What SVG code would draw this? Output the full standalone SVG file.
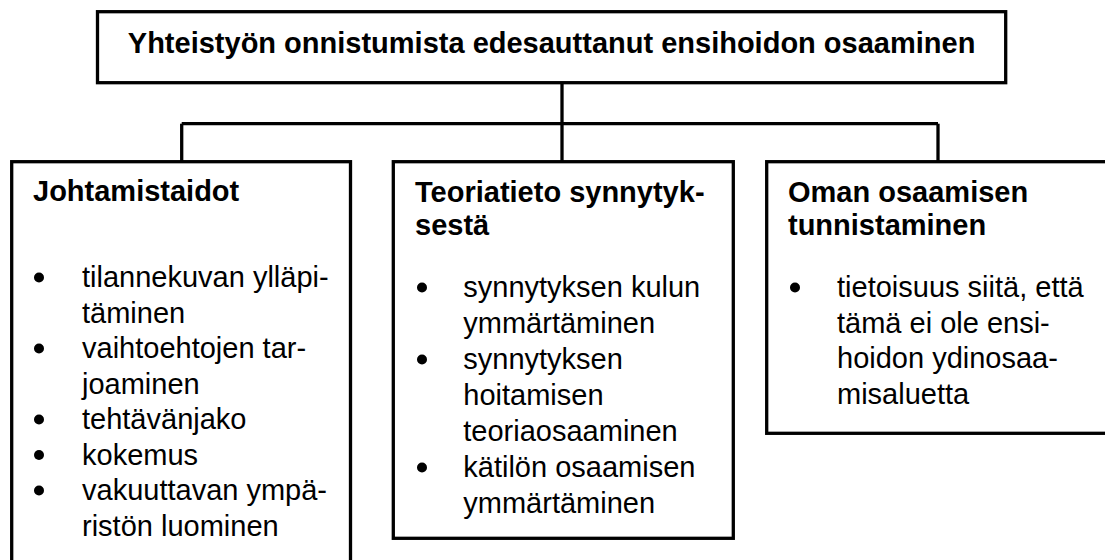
<svg xmlns="http://www.w3.org/2000/svg" width="1105" height="560" viewBox="0 0 1105 560">
  <style>
    .box { fill: #ffffff; stroke: #000000; stroke-width: 3.3; }
    .conn { fill: none; stroke: #000000; stroke-width: 3.3; }
    .title { font-family: "Liberation Sans", Arial, sans-serif; font-size: 29px; font-weight: bold; fill: #000000; }
    .body { font-family: "Liberation Sans", Arial, sans-serif; font-size: 29px; fill: #000000; }
    .dot { fill: #000000; }
  </style>
  <rect width="1105" height="560" fill="#ffffff"/>
  <g id="connectors">
    <line class="conn" x1="562" y1="83" x2="562" y2="162"/>
    <line class="conn" x1="181.7" y1="123.7" x2="938" y2="123.7"/>
    <line class="conn" x1="181.7" y1="123.7" x2="181.7" y2="162"/>
    <line class="conn" x1="938" y1="123.7" x2="938" y2="162"/>
  </g>
  <g id="root">
    <rect class="box" x="97.5" y="11.7" width="908.2" height="71"/>
    <text class="title" x="551.6" y="52.5" text-anchor="middle">Yhteistyön onnistumista edesauttanut ensihoidon osaaminen</text>
  </g>
  <g id="johtamistaidot">
    <rect class="box" x="11.7" y="161.7" width="338.8" height="420"/>
    <text class="title" x="33" y="201">Johtamistaidot</text>
    <circle class="dot" cx="39" cy="277.5" r="5"/>
    <circle class="dot" cx="39" cy="348.5" r="5"/>
    <circle class="dot" cx="39" cy="419.5" r="5"/>
    <circle class="dot" cx="39" cy="455" r="5"/>
    <circle class="dot" cx="39" cy="490.5" r="5"/>
    <text class="body" x="82" y="287">tilannekuvan ylläpi-</text>
    <text class="body" x="82" y="322.5">täminen</text>
    <text class="body" x="82" y="358">vaihtoehtojen tar-</text>
    <text class="body" x="82" y="393.5">joaminen</text>
    <text class="body" x="82" y="429">tehtävänjako</text>
    <text class="body" x="82" y="464.5">kokemus</text>
    <text class="body" x="82" y="500">vakuuttavan ympä-</text>
    <text class="body" x="82" y="535.5">ristön luominen</text>
  </g>
  <g id="teoriatieto">
    <rect class="box" x="393.3" y="161.7" width="340" height="376.6"/>
    <text class="title" x="415" y="201.5">Teoriatieto synnytyk-</text>
    <text class="title" x="415" y="235">sestä</text>
    <circle class="dot" cx="422" cy="287.5" r="5"/>
    <circle class="dot" cx="422" cy="359.5" r="5"/>
    <circle class="dot" cx="422" cy="467.5" r="5"/>
    <text class="body" x="463.3" y="297">synnytyksen kulun</text>
    <text class="body" x="463.3" y="333">ymmärtäminen</text>
    <text class="body" x="463.3" y="369">synnytyksen</text>
    <text class="body" x="463.3" y="405">hoitamisen</text>
    <text class="body" x="463.3" y="441">teoriaosaaminen</text>
    <text class="body" x="463.3" y="477">kätilön osaamisen</text>
    <text class="body" x="463.3" y="513">ymmärtäminen</text>
  </g>
  <g id="oman-osaamisen">
    <rect class="box" x="766.7" y="161.7" width="360" height="271.6"/>
    <text class="title" x="788" y="201.5">Oman osaamisen</text>
    <text class="title" x="788" y="235">tunnistaminen</text>
    <circle class="dot" cx="795" cy="287.5" r="5"/>
    <text class="body" x="837" y="297">tietoisuus siitä, että</text>
    <text class="body" x="837" y="332.5">tämä ei ole ensi-</text>
    <text class="body" x="837" y="368">hoidon ydinosaa-</text>
    <text class="body" x="837" y="403.5">misaluetta</text>
  </g>
</svg>
